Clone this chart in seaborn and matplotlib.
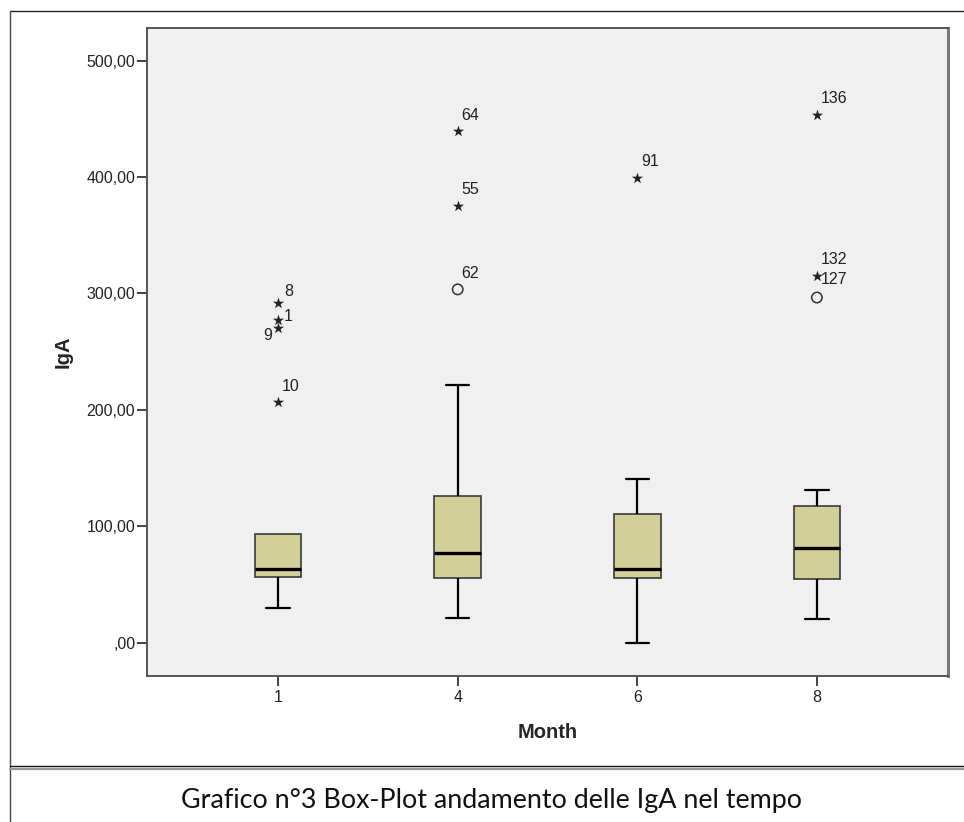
import matplotlib
matplotlib.use("Agg")
import matplotlib.pyplot as plt
from matplotlib.lines import Line2D
from matplotlib.ticker import FuncFormatter
import seaborn as sns
import pandas as pd

# five-number summaries (box = q1..q3, whiskers = low..high)
months = ["1", "4", "6", "8"]
whisker_low = [29.5, 21.0, 0.0, 20.0]
q1 = [56.0, 55.7, 55.7, 55.0]
median = [63.0, 77.0, 63.0, 81.0]
q3 = [93.0, 126.0, 110.5, 117.0]
whisker_high = [93.0, 221.0, 140.5, 131.0]

# extreme outliers (stars) and outliers (circles) with case ids
star_month = ["1", "1", "1", "1", "4", "4", "6", "8", "8"]
star_value = [292.0, 277.0, 270.5, 206.5, 439.5, 375.5, 399.5, 453.5, 315.0]
star_id = ["8", "1", "9", "10", "64", "55", "91", "136", "132"]

circle_month = ["4", "8"]
circle_value = [303.5, 296.5]
circle_id = ["62", "127"]

yticks = [0, 100, 200, 300, 400, 500]
caption = "Grafico n°3 Box-Plot andamento delle IgA nel tempo"

sns.set_style("white")
plt.rcParams["font.family"] = ["Liberation Sans", "DejaVu Sans"]

rows = []
for i, m in enumerate(months):
    for v in (whisker_low[i], q1[i], median[i], q3[i], whisker_high[i]):
        rows.append({"Month": m, "IgA": v})
box_df = pd.DataFrame(rows)
star_df = pd.DataFrame({"Month": star_month, "IgA": star_value})
circle_df = pd.DataFrame({"Month": circle_month, "IgA": circle_value})

fig = plt.figure(figsize=(9.64, 8.22), dpi=100)
ax = fig.add_axes([147 / 964, 1 - 675.7 / 822, 801 / 964, 647.4 / 822])
ax.set_facecolor("#f0f0f0")

sns.boxplot(data=box_df, x="Month", y="IgA", order=months, whis=(0, 100),
            width=0.26, color="#d3cf98", saturation=1, linecolor="#3a3a3a",
            linewidth=1.2, showfliers=False, ax=ax,
            medianprops={"color": "black", "linewidth": 2.4},
            whiskerprops={"color": "black", "linewidth": 1.6},
            capprops={"color": "black", "linewidth": 1.6})

# SPSS draws no cap when the whisker has zero length
for i, m in enumerate(months):
    if whisker_high[i] == q3[i]:
        for ln in ax.lines:
            y = ln.get_ydata()
            x = ln.get_xdata()
            if len(y) == 2 and y[0] == y[1] == q3[i] and abs(x[0] - i) < 0.5:
                ln.set_visible(False)

sns.stripplot(data=star_df, x="Month", y="IgA", order=months, jitter=False,
              marker="*", size=8.5, color="#222222", linewidth=0, ax=ax)
sns.stripplot(data=circle_df, x="Month", y="IgA", order=months, jitter=False,
              marker="o", size=7.5, color="none", edgecolor="#333333",
              linewidth=1.1, ax=ax)

# case labels, offset in pixels from each point
special = {"8": (6, 11, "left"), "1": (6, 4, "left"), "9": (-6, -8, "right"),
           "127": (4, 18, "left")}
for m, v, lab in list(zip(star_month, star_value, star_id)) + \
        list(zip(circle_month, circle_value, circle_id)):
    dx, dy, ha = special.get(lab, (4, 16, "left"))
    ax.annotate(lab, xy=(months.index(m), v), xytext=(dx, dy),
                textcoords="offset pixels", ha=ha, va="center",
                fontsize=11.5, color="#222222")

ax.set_xlim(-0.73, 3.73)
ax.set_ylim(-28.4, 527.8)
ax.set_yticks(yticks)


def spss_fmt(v, pos):
    s = f"{v:.2f}".replace(".", ",")
    return s[1:] if s.startswith("0,") else s


ax.yaxis.set_major_formatter(FuncFormatter(spss_fmt))
ax.tick_params(axis="both", direction="out", length=7, width=1.4,
               color="#444444", labelsize=11.5, labelcolor="#222222")
ax.tick_params(axis="y", pad=1.5, left=True)
ax.tick_params(axis="x", pad=3, bottom=True)

for side, sp in ax.spines.items():
    sp.set_visible(True)
    sp.set_color("#555555")
    sp.set_linewidth(1.4)
ax.spines["right"].set_color("#777777")
ax.spines["right"].set_linewidth(2.2)

ax.set_xlabel("Month", fontsize=14.5, fontweight="bold", va="center")
ax.set_ylabel("IgA", fontsize=14.5, fontweight="bold", va="center")
ax.xaxis.set_label_coords(0.5, -0.0885, transform=ax.transAxes)
ax.yaxis.set_label_coords(-0.105, 0.5, transform=ax.transAxes)

# outer frame and caption cell
fw, fh = 964, 822
def fline(x0, y0, x1, y1, **kw):
    fig.add_artist(Line2D([x0 / fw, x1 / fw], [1 - y0 / fh, 1 - y1 / fh],
                          transform=fig.transFigure, **kw))

fline(9.7, 10.7, 964, 10.7, color="#222222", lw=1.0)
fline(9.7, 10.7, 9.7, 822, color="#444444", lw=1.0)
fline(9.7, 765.7, 964, 765.7, color="#111111", lw=1.0)
fline(9.7, 768.7, 964, 768.7, color="#999999", lw=1.6)

cap = fig.text(492 / fw, 1 - 808.3 / fh, caption, family=["Lato", "DejaVu Sans"],
               fontsize=20, ha="center", va="baseline", color="#111111")
fig.canvas.draw()
w = cap.get_window_extent().width
cap.set_fontsize(20 * 621 / w)

fig.savefig("out.png", dpi=100)
plt.close(fig)
